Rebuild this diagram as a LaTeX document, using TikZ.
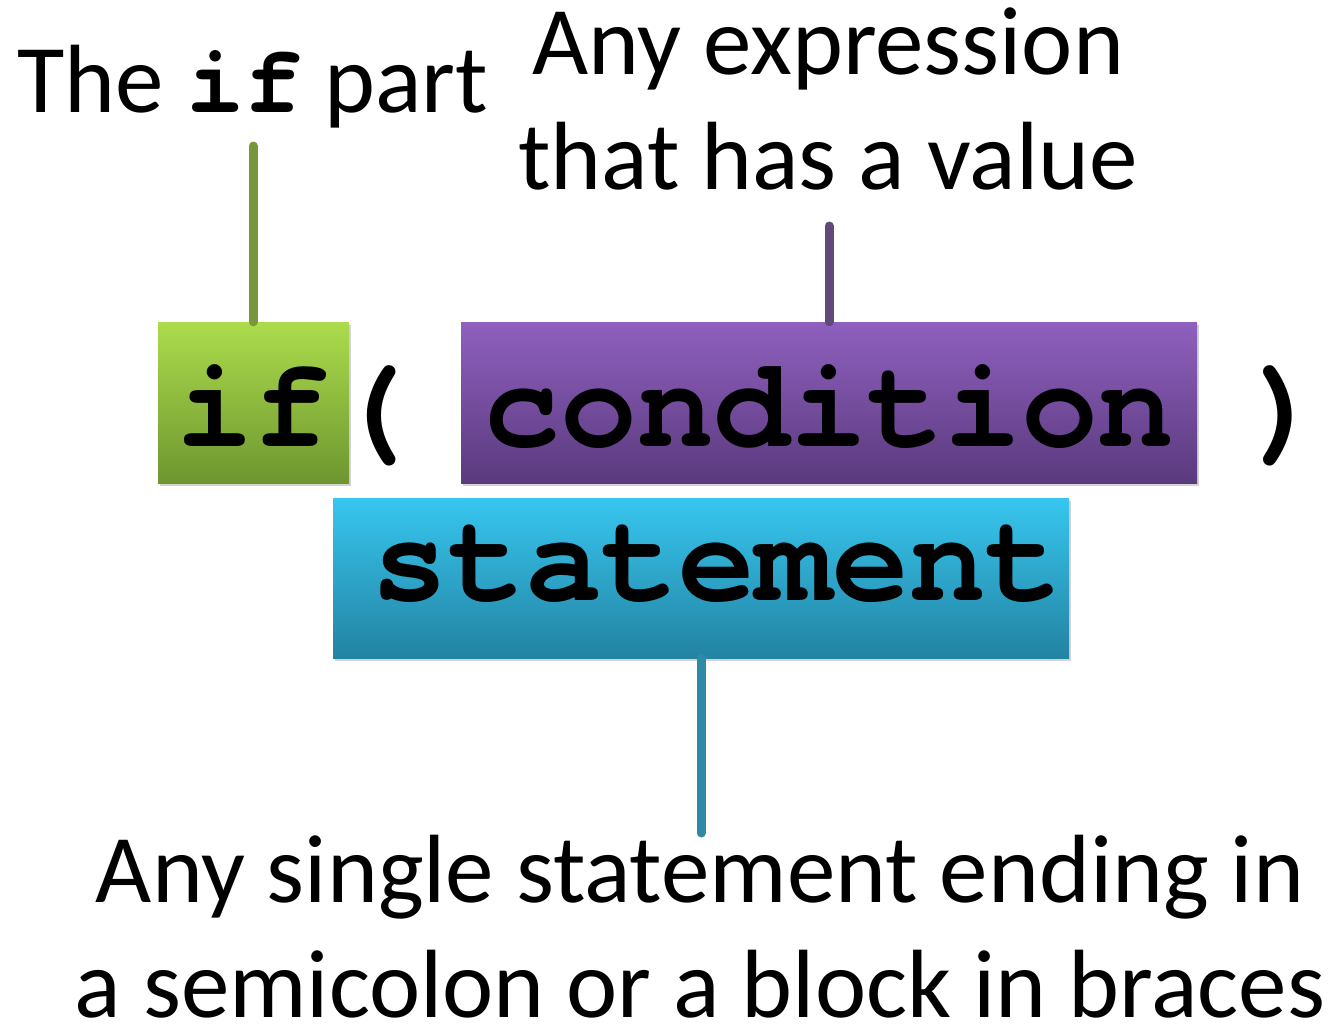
\documentclass[tikz,border=0pt]{standalone}
\usepackage{fontspec}
\setmainfont{Carlito}
\newfontfamily\codefont{texgyrecursor}[Extension=.otf, UprightFont=*-regular, BoldFont=*-bold]
\usetikzlibrary{shadows}
\definecolor{gtop}{HTML}{ACDC4C}
\definecolor{gbot}{HTML}{6E9630}
\definecolor{ptop}{HTML}{8F60BE}
\definecolor{pbot}{HTML}{5A3A7E}
\definecolor{ctop}{HTML}{37C6EF}
\definecolor{cbot}{HTML}{2383A2}
\definecolor{gline}{HTML}{77983A}
\definecolor{pline}{HTML}{5F4A7A}
\definecolor{cline}{HTML}{2E8AA6}
\tikzset{
  lbl/.style={font=\fontsize{97}{115}\selectfont, align=center, inner sep=0pt, anchor=base},
  code/.style={font=\codefont\bfseries\fontsize{128}{128}\selectfont, inner sep=0pt, anchor=base},
  colbox/.style={draw=none, minimum width=#1, inner sep=0pt,
    drop shadow={opacity=0.35, shadow xshift=2pt, shadow yshift=-3pt}},
  conn/.style={line width=9pt, line cap=round},
}
\begin{document}
\begin{tikzpicture}[x=1pt,y=-1pt]
\useasboundingbox (0,0) rectangle (1329,1025);
% boxes
\node[colbox=191pt, minimum height=161pt, top color=gtop, bottom color=gbot] (ifbox) at (253.5,402.5) {};
\node[colbox=736pt, minimum height=161pt, top color=ptop, bottom color=pbot] (condbox) at (829,402.5) {};
\node[colbox=736pt, minimum height=160pt, top color=ctop, bottom color=cbot] (statbox) at (701,578) {};
% code texts
\node[code] (iftxt) at (253.5,446) {if};
\node[code] (lpar) at (372,446) {(};
\node[code] (condtxt) at (829,446) {condition};
\node[code] (rpar) at (1287,446) {)};
\node[code] (stattxt) at (717,600) {statement};
% labels
\node[lbl] (iflabel) at (253,112) {The {\codefont\bfseries if} part};
\node[lbl] (condlabel) at (828,189) {Any expression\\that has a value};
\node[lbl, text depth=0pt] (statlabel) at (700,1017) {Any single statement ending in\\a semicolon or a block in braces};
% connectors
\coordinate (gend) at (253,146);
\coordinate (pend) at (829,226);
\coordinate (cend) at (701,833);
\draw[conn, gline] (gend) -- (gend |- ifbox.north);
\draw[conn, pline] (pend) -- (pend |- condbox.north);
\draw[conn, cline] (cend) -- (cend |- statbox.south);
\end{tikzpicture}
\end{document}
